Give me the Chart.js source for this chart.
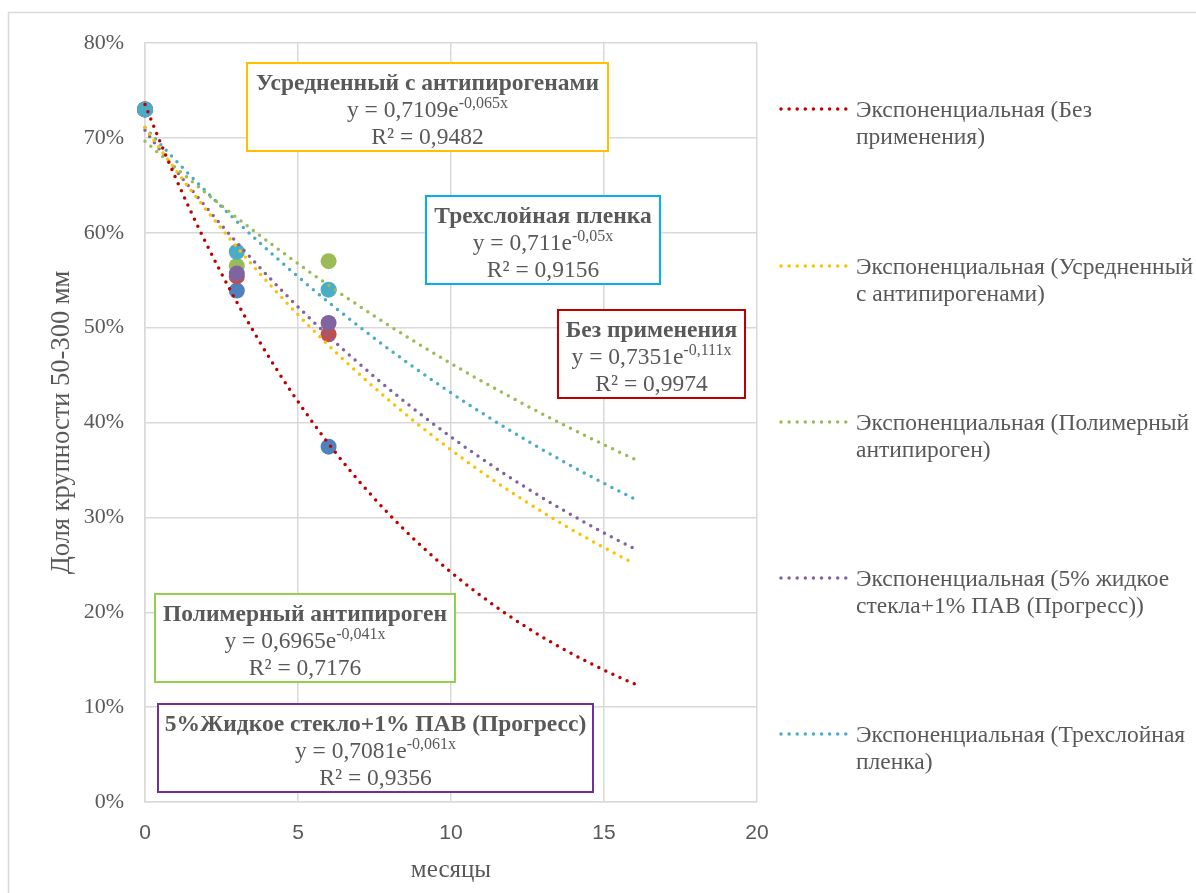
<!DOCTYPE html>
<html lang="ru">
<head>
<meta charset="utf-8">
<title>Доля крупности 50-300 мм по месяцам</title>
<script src="https://cdn.jsdelivr.net/npm/chart.js@4.4.1/dist/chart.umd.min.js"></script>
<style>
  html, body { margin: 0; padding: 0; background: #ffffff; }
  #wrap { width: 1196px; height: 893px; position: relative; }
  canvas { display: block; }
</style>
</head>
<body>
<div id="wrap"><canvas id="chart" width="1196" height="893"></canvas></div>
<script>
// Measurement months
const months = [0, 3, 6];

// Share of the 50-300 mm fraction, per treatment
const bezPrimeneniya = [0.730, 0.539, 0.3745];
const usrednenny     = [0.730, 0.554, 0.493];
const polimerny      = [0.730, 0.565, 0.570];
const zhidkoeSteklo  = [0.730, 0.557, 0.505];
const trehsloynaya   = [0.730, 0.580, 0.540];

// Exponential trend y = a·e^(b·x) for each series, with R²
const trendA  = [0.7351, 0.7109, 0.6965, 0.7081, 0.711];
const trendB  = [-0.111, -0.065, -0.041, -0.061, -0.05];
const trendR2 = ['0,9974', '0,9482', '0,7176', '0,9356', '0,9156'];
const trendEnd = 16;

// Names
const seriesNames = [
  'Без применения',
  'Усредненный с антипирогенами',
  'Полимерный антипироген',
  '5% жидкое стекла+1% ПАВ (Прогресс)',
  'Трехслойная пленка'
];
const boxTitles = [
  'Без применения',
  'Усредненный с антипирогенами',
  'Полимерный антипироген',
  '5%Жидкое стекло+1% ПАВ (Прогресс)',
  'Трехслойная пленка'
];
const legendLines = [
  ['Экспоненциальная (Без', 'применения)'],
  ['Экспоненциальная (Усредненный', 'с антипирогенами)'],
  ['Экспоненциальная (Полимерный', 'антипироген)'],
  ['Экспоненциальная (5% жидкое', 'стекла+1% ПАВ (Прогресс))'],
  ['Экспоненциальная (Трехслойная', 'пленка)']
];
const yTicks = [0, 0.1, 0.2, 0.3, 0.4, 0.5, 0.6, 0.7, 0.8];
const xTicks = [0, 5, 10, 15, 20];

const seriesValues = [bezPrimeneniya, usrednenny, polimerny, zhidkoeSteklo, trehsloynaya];

// Styling
const markerColors = ['#4F81BD', '#C0504D', '#9BBB59', '#8064A2', '#4BACC6'];
const trendColors  = ['#C00000', '#FFC000', '#9BBB59', '#8064A2', '#4BACC6'];
const boxColors    = ['#C00000', '#FFC000', '#92D050', '#7030A0', '#00B0F0'];
const textColor = '#595959';
const gridColor = '#D9D9D9';
const serif = '"Liberation Serif", "Times New Roman", serif';
const narrow = '"Liberation Sans Narrow", "Liberation Sans", Arial, sans-serif';
const textSize = 23.5;

// Equation boxes: [left, top, right, bottom] in canvas pixels
const boxRects = [
  [558, 310, 745, 398],
  [247, 63, 608, 151],
  [155, 594, 455, 682],
  [158, 704, 593, 792],
  [426, 196, 660, 284]
];
// Legend rows: y of first text line
const legendRowY = [111, 268, 424, 580, 736];

const fmt = v => String(v).replace('.', ',');

function trendPoints(a, b) {
  const pts = [];
  for (let i = 0; i <= trendEnd * 5; i++) {
    const x = i / 5;
    pts.push({ x: x, y: a * Math.exp(b * x) });
  }
  return pts;
}

const datasets = [];
seriesValues.forEach((vals, i) => {
  datasets.push({
    label: seriesNames[i],
    data: months.map((m, k) => ({ x: m, y: vals[k] })),
    backgroundColor: markerColors[i],
    borderColor: markerColors[i],
    pointRadius: 8,
    pointHoverRadius: 8,
    pointBorderWidth: 0,
    showLine: false,
    clip: false,
    order: 10 - i
  });
});
seriesValues.forEach((vals, i) => {
  datasets.push({
    label: legendLines[i].join(' '),
    data: trendPoints(trendA[i], trendB[i]),
    borderColor: trendColors[i],
    backgroundColor: trendColors[i],
    borderWidth: 3.5,
    borderDash: [0, 7.8],
    borderCapStyle: 'round',
    pointRadius: 0,
    showLine: true,
    fill: false,
    tension: 0,
    clip: false,
    order: i
  });
});

// Page frame, equation boxes and the trend legend
const decorations = {
  id: 'decorations',
  beforeDraw(chart) {
    const ctx = chart.ctx;
    ctx.save();
    ctx.fillStyle = '#ffffff';
    ctx.fillRect(0, 0, chart.width, chart.height);
    ctx.strokeStyle = gridColor;
    ctx.lineWidth = 1.5;
    ctx.strokeRect(8.5, 12.5, 1400, 1000);
    ctx.restore();
  },
  afterDraw(chart) {
    const ctx = chart.ctx;
    ctx.save();
    // equation boxes
    boxRects.forEach((r, i) => {
      const [l, t, rr, b] = r;
      ctx.fillStyle = '#ffffff';
      ctx.fillRect(l, t, rr - l, b - t);
      ctx.strokeStyle = boxColors[i];
      ctx.lineWidth = 2;
      ctx.strokeRect(l, t, rr - l, b - t);
      const cx = (l + rr) / 2;
      ctx.fillStyle = textColor;
      ctx.textBaseline = 'alphabetic';
      ctx.textAlign = 'center';
      ctx.font = 'bold ' + textSize + 'px ' + serif;
      ctx.fillText(boxTitles[i], cx, t + 27);
      // y = a·e^(bx)
      const main = 'y = ' + fmt(trendA[i]) + 'e';
      const sup = fmt(trendB[i]) + 'x';
      ctx.font = textSize + 'px ' + serif;
      const wMain = ctx.measureText(main).width;
      ctx.font = '16px ' + serif;
      const wSup = ctx.measureText(sup).width;
      const x0 = cx - (wMain + wSup) / 2;
      ctx.textAlign = 'left';
      ctx.font = textSize + 'px ' + serif;
      ctx.fillText(main, x0, t + 54);
      ctx.font = '16px ' + serif;
      ctx.fillText(sup, x0 + wMain, t + 45);
      ctx.textAlign = 'center';
      ctx.font = textSize + 'px ' + serif;
      ctx.fillText('R² = ' + trendR2[i], cx, t + 81);
    });
    // legend of trend lines
    const lx0 = 781, lx1 = 846, tx = 856;
    legendRowY.forEach((y, i) => {
      ctx.strokeStyle = trendColors[i];
      ctx.lineWidth = 3.5;
      ctx.lineCap = 'round';
      ctx.setLineDash([0, 8.1]);
      ctx.beginPath();
      ctx.moveTo(lx0, y - 2);
      ctx.lineTo(lx1, y - 2);
      ctx.stroke();
      ctx.setLineDash([]);
      ctx.fillStyle = textColor;
      ctx.font = textSize + 'px ' + serif;
      ctx.textAlign = 'left';
      ctx.textBaseline = 'middle';
      legendLines[i].forEach((line, k) => {
        ctx.fillText(line, tx, y + k * 27);
      });
    });
    ctx.restore();
  }
};

new Chart(document.getElementById('chart'), {
  type: 'scatter',
  data: { datasets: datasets },
  plugins: [decorations],
  options: {
    responsive: false,
    devicePixelRatio: 1,
    animation: false,
    layout: { padding: { top: 43, right: 439, bottom: 0, left: 0 } },
    plugins: {
      legend: { display: false },
      tooltip: { enabled: false },
      title: { display: false }
    },
    scales: {
      x: {
        type: 'linear',
        min: 0,
        max: 20,
        afterFit(scale) { scale.height = 91; },
        afterBuildTicks(scale) { scale.ticks = xTicks.map(v => ({ value: v })); },
        grid: { color: gridColor, lineWidth: 1.5, drawTicks: false },
        border: { color: gridColor, width: 1.5 },
        ticks: {
          color: textColor,
          font: { family: narrow, size: 21 },
          padding: 19
        },
        title: {
          display: true,
          text: 'месяцы',
          color: textColor,
          font: { family: serif, size: 25 },
          padding: { top: 0, bottom: 8 }
        }
      },
      y: {
        type: 'linear',
        min: 0,
        max: 0.8,
        afterFit(scale) { scale.width = 145; },
        afterBuildTicks(scale) { scale.ticks = yTicks.map(v => ({ value: v })); },
        grid: { color: gridColor, lineWidth: 1.5, drawTicks: false },
        border: { color: gridColor, width: 1.5 },
        ticks: {
          color: textColor,
          font: { family: serif, size: 22 },
          padding: 21,
          callback: v => Math.round(v * 100) + '%'
        },
        title: {
          display: true,
          text: 'Доля крупности 50-300 мм',
          color: textColor,
          font: { family: serif, size: 26.5 },
          padding: { top: 46, bottom: 0 }
        }
      }
    }
  }
});
</script>
</body>
</html>
